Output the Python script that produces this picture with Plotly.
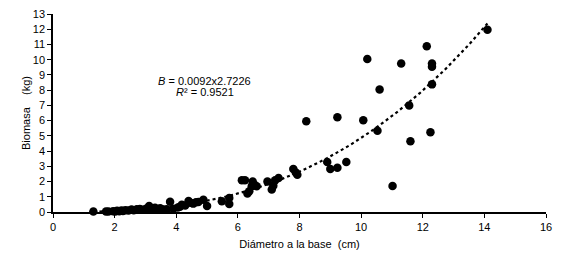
import numpy as np
import plotly.graph_objects as go

# Observed data: basal diameter (cm) and biomass (kg)
diametro = [
    1.31, 1.72, 1.80, 1.95, 2.02, 2.08, 2.15, 2.22, 2.27, 2.35, 2.45, 2.55,
    2.62, 2.72, 2.82, 2.92, 3.02, 3.12, 3.20, 3.31, 3.40, 3.48, 3.58, 3.69,
    3.80, 3.90, 4.05, 4.12, 4.18, 4.29, 4.40, 4.45, 4.55, 4.64, 4.72, 4.88,
    5.00, 5.48, 5.72, 5.72,
    6.13, 6.23, 6.31, 6.37, 6.45, 6.48, 6.53, 6.61, 6.96, 7.10, 7.15, 7.21,
    7.32, 7.80, 7.88, 7.93,
    8.22, 8.90, 9.00, 9.23, 9.23, 9.52, 10.07, 10.20, 10.53, 10.60, 11.02,
    11.30, 11.56, 11.60, 12.13, 12.25, 12.30, 12.30, 12.30, 14.10,
]
biomasa = [
    0.03, 0.03, 0.03, 0.05, 0.04, 0.08, 0.05, 0.10, 0.07, 0.12, 0.10, 0.16,
    0.12, 0.18, 0.20, 0.15, 0.22, 0.40, 0.16, 0.28, 0.20, 0.24, 0.16, 0.18,
    0.68, 0.22, 0.30, 0.34, 0.47, 0.42, 0.72, 0.60, 0.55, 0.64, 0.66, 0.80,
    0.40, 0.70, 0.92, 0.52,
    2.08, 2.08, 1.21, 1.36, 1.69, 2.01, 1.80, 1.69, 2.01, 1.47, 1.73, 2.08,
    2.23, 2.82, 2.60, 2.45,
    5.96, 3.28, 2.82, 2.90, 6.22, 3.28, 6.02, 10.05, 5.33, 8.05, 1.71,
    9.75, 7.00, 4.65, 10.88, 5.24, 9.75, 9.53, 8.38, 11.97,
]

coef_a = 0.0092
coef_b = 2.7226
eq_text = "<i>B</i> = 0.0092x2.7226"
r2_text = "<i>R</i>² = 0.9521"

x_ticks = list(range(0, 17, 2))
y_ticks = list(range(0, 14, 1))

xf = np.linspace(min(diametro), max(diametro), 200)
yf = coef_a * xf ** coef_b

font = dict(family="Liberation Sans, Arial, sans-serif", size=11, color="black")

fig = go.Figure()
fig.add_trace(go.Scatter(
    x=xf, y=yf, mode="lines",
    line=dict(color="black", width=2.2, dash="dot"),
    hoverinfo="skip", showlegend=False, cliponaxis=False,
))
fig.add_trace(go.Scatter(
    x=diametro, y=biomasa, mode="markers",
    marker=dict(color="black", size=8.5),
    showlegend=False, cliponaxis=False,
))

fig.add_annotation(x=4.93, y=8.62, text=eq_text, showarrow=False,
                   font=dict(family=font["family"], size=11, color="black"))
fig.add_annotation(x=4.93, y=7.9, text=r2_text, showarrow=False,
                   font=dict(family=font["family"], size=11, color="black"))

fig.update_layout(
    width=567, height=265,
    margin=dict(l=53, r=21, t=14, b=53, autoexpand=False),
    paper_bgcolor="white", plot_bgcolor="white",
    font=font,
    showlegend=False,
)
fig.update_xaxes(
    range=[0, 16], tickvals=x_ticks, showgrid=False, zeroline=False,
    showline=True, linecolor="black", linewidth=1.5,
    ticks="outside", ticklen=4, tickcolor="black", tickwidth=1,
    title=dict(text="Diámetro a la base  (cm)", font=font, standoff=8),
    tickfont=font, automargin=False,
)
fig.update_yaxes(
    range=[0, 13], tickvals=y_ticks, showgrid=False, zeroline=False,
    showline=True, linecolor="black", linewidth=1.5,
    ticks="outside", ticklen=4, tickcolor="black", tickwidth=1,
    title=dict(text="Biomasa    (kg)", font=font, standoff=0),
    tickfont=font, automargin=False,
)

fig.write_html("out.html", config={"displayModeBar": False},
               post_script="document.body.style.margin='0';")
